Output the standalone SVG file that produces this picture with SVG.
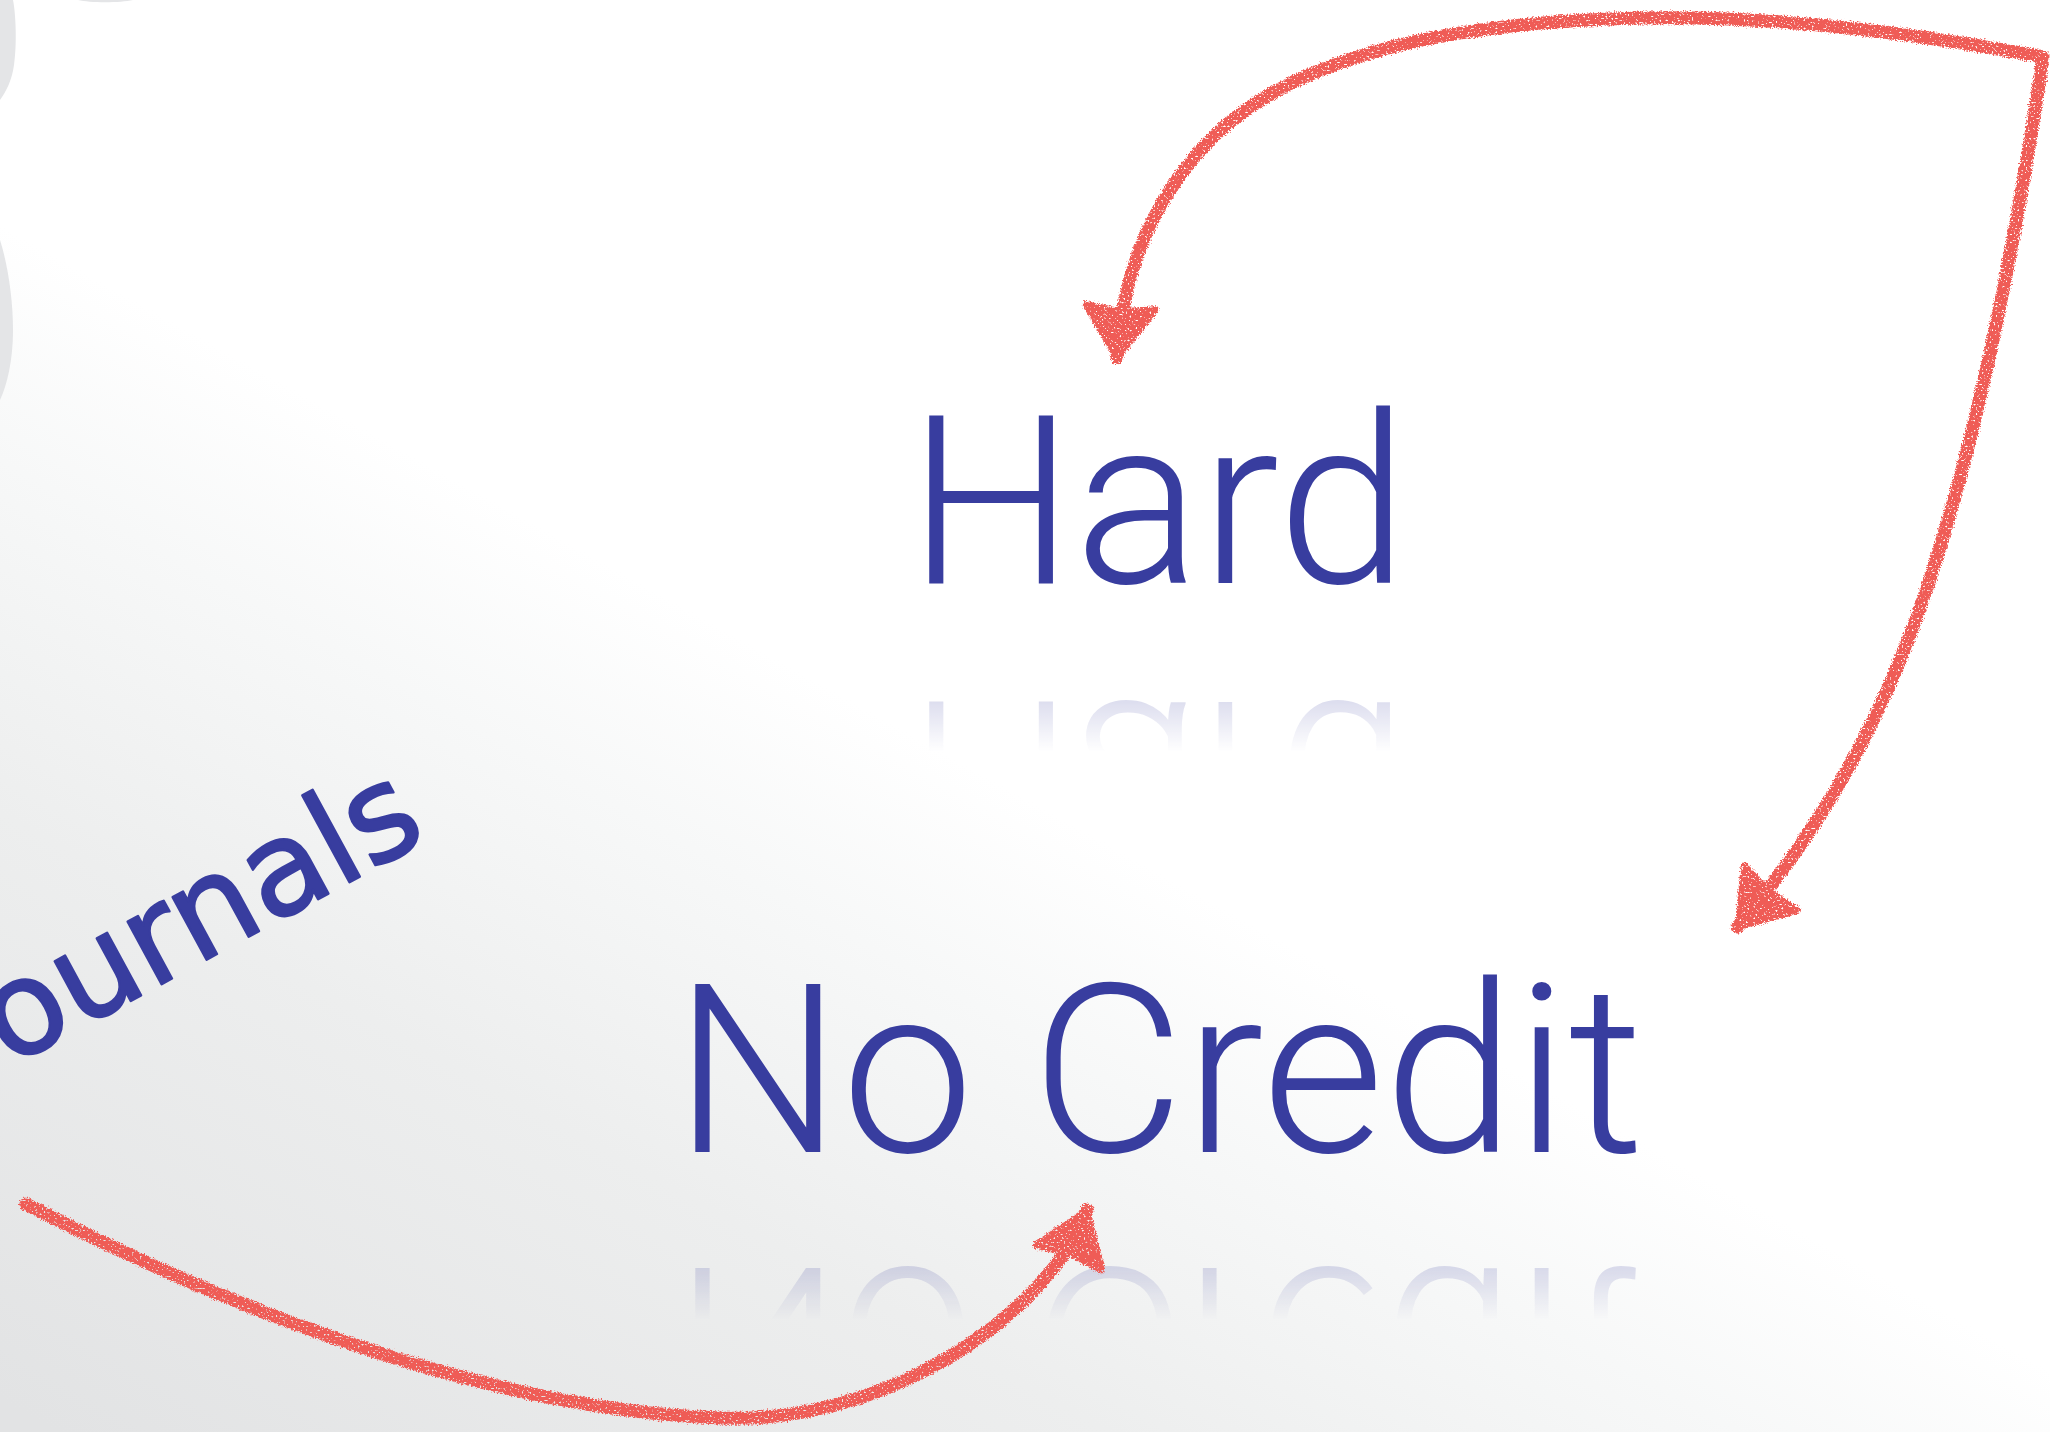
<svg xmlns="http://www.w3.org/2000/svg" width="2050" height="1432" viewBox="0 0 2050 1432">
<defs>
<style>
.big{font-family:Roboto,"Liberation Sans",sans-serif;font-weight:300;fill:#383d9f;text-anchor:middle}
.hand{font-family:"DejaVu Sans","Noto Sans",sans-serif;font-size:130px;fill:#383d9f;stroke:#383d9f;stroke-width:2.5;stroke-linejoin:round;stroke-linecap:round}
.blob{fill:#e4e5e7}
.arrow{fill:none;stroke:#ef5c57;stroke-width:13;stroke-linecap:round;stroke-linejoin:round;filter:url(#crayon)}
</style>
<linearGradient id="bg" gradientUnits="userSpaceOnUse" x1="-330" y1="1215" x2="170" y2="320">
<stop offset="0" stop-color="#e2e3e4"/>
<stop offset="0.5" stop-color="#edeeee"/>
<stop offset="0.8" stop-color="#f7f8f8"/>
<stop offset="1" stop-color="#ffffff"/>
</linearGradient>
<linearGradient id="fadeH" gradientUnits="userSpaceOnUse" x1="0" y1="702" x2="0" y2="752">
<stop offset="0" stop-color="#fff" stop-opacity="0.17"/>
<stop offset="1" stop-color="#fff" stop-opacity="0"/>
</linearGradient>
<linearGradient id="fadeN" gradientUnits="userSpaceOnUse" x1="0" y1="1268" x2="0" y2="1320">
<stop offset="0" stop-color="#fff" stop-opacity="0.17"/>
<stop offset="1" stop-color="#fff" stop-opacity="0"/>
</linearGradient>
<mask id="mH" maskUnits="userSpaceOnUse" x="0" y="0" width="2050" height="1432"><rect x="0" y="690" width="2050" height="80" fill="url(#fadeH)"/></mask>
<mask id="mN" maskUnits="userSpaceOnUse" x="0" y="0" width="2050" height="1432"><rect x="0" y="1255" width="2050" height="80" fill="url(#fadeN)"/></mask>
<filter id="crayon" filterUnits="userSpaceOnUse" x="0" y="0" width="2050" height="1432">
<feTurbulence type="fractalNoise" baseFrequency="0.7" numOctaves="2" seed="3" result="n"/>
<feDisplacementMap in="SourceGraphic" in2="n" scale="6" xChannelSelector="R" yChannelSelector="G" result="d"/>
<feTurbulence type="fractalNoise" baseFrequency="0.5" numOctaves="1" seed="7" result="n2"/>
<feColorMatrix in="n2" type="matrix" values="0 0 0 0 0  0 0 0 0 0  0 0 0 0 0  9 0 0 0 -2.4" result="holes"/>
<feComposite in="d" in2="holes" operator="in"/>
</filter>
<marker id="head" markerUnits="userSpaceOnUse" viewBox="-60 -42 66 84" refX="0" refY="0" markerWidth="66" markerHeight="84" orient="auto-start-reverse" overflow="visible">
<path d="M2,0 L-50,-36 Q-54,-37 -52,-31 L-48,0 L-52,31 Q-54,37 -50,36 Z" fill="#ef5c57" stroke="#ef5c57" stroke-width="4" stroke-linejoin="round"/>
</marker>
</defs>
<rect x="0" y="0" width="2050" height="1432" fill="url(#bg)"/>
<g id="background-shapes">
<path class="blob" d="M0,0 L13,0 C16,15 17,45 14,65 C12,80 6,92 0,100 Z"/>
<path class="blob" d="M0,240 C8,265 13,300 13,330 C13,360 7,385 0,400 Z"/>
<path class="blob" d="M78,0 C90,3 120,3 133,0 Z"/>
</g>
<g id="node-hard">
<text class="big" x="1158" y="583" font-size="235">Hard</text>
<g mask="url(#mH)"><text class="big" x="1158" y="583" font-size="235" transform="translate(0,1285) scale(1,-1)">Hard</text></g>
</g>
<g id="node-nocredit">
<text class="big" x="1159" y="1152" font-size="236">No Credit</text>
<g mask="url(#mN)"><text class="big" x="1159" y="1152" font-size="236" transform="translate(0,2420) scale(1,-1)">No Credit</text></g>
</g>
<g id="node-journals">
<text class="hand" x="9" y="1067" transform="rotate(-28.5 9 1067)">ournals</text>
</g>
<g id="connectors">
<path class="arrow" marker-start="url(#head)" marker-end="url(#head)" d="M1117,358 C1122,290 1140,210 1215,135 C1300,55 1450,22 1640,18 C1800,15 1950,40 2043,57 C2022,200 1990,380 1945,530 C1905,670 1845,800 1738,927"/>
<path class="arrow" marker-end="url(#head)" d="M26,1204 C250,1320 500,1410 720,1418 C880,1425 1045,1320 1087,1210"/>
</g>
</svg>
